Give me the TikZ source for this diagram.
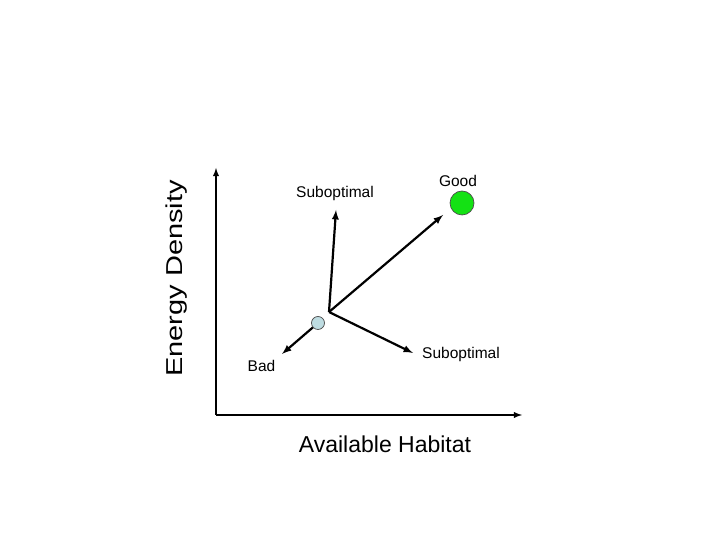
\documentclass[tikz,border=0pt]{standalone}
\usepackage{fontspec}
\setmainfont{Liberation Sans}
\usetikzlibrary{positioning}
\usetikzlibrary{arrows}

\begin{document}
\begin{tikzpicture}[x=1pt, y=1pt,
paths/.style={->, line width=2.2pt, -latex},
axis/.style={->, line width=1.8pt, -latex},
lab/.style={font=\fontsize{15.5}{18}\selectfont, anchor=base, inner sep=0pt},
biglab/.style={font=\fontsize{23}{27}\selectfont, anchor=base, inner sep=0pt},
patch/.style={circle, draw=black!70, line width=0.7pt, inner sep=0pt}
]
\useasboundingbox (0,0) rectangle (720,540);
%create nodes
\coordinate (o) at (216,125);
\coordinate (ytop) at (216,372);
\coordinate (xend) at (522,125);
\coordinate (c) at (329,228);

\node[patch, fill={rgb,255:red,20;green,225;blue,20}, minimum size=24pt] (good) at (462,337) {};
\node[patch, fill={rgb,255:red,190;green,220;blue,225}, minimum size=13pt] (here) at (318,217) {};

\coordinate (tup) at (336,330);
\coordinate (tgood) at (443,325);
\coordinate (tright) at (413,187);
\coordinate (tbad) at (282,186);

\node[lab] (subup) at (335,342) {Suboptimal};
\node[lab] (goodlab) at (458,353) {Good};
\node[lab] (subright) at (461,181) {Suboptimal};
\node[lab] (badlab) at (261.5,168) {Bad};
\node[biglab] (xlab) at (385,87) {Available Habitat};
\node[biglab, rotate=90] (ylab) at (182,261.5) {\scalebox{1.26}[1]{Energy Density}};

%draw paths
\draw[axis] (o) -- (ytop);
\draw[axis] (o) -- (xend);

\draw[paths] (c) -- (tup);
\draw[paths] (c) -- (tgood);
\draw[paths] (c) -- (tright);
\draw[paths] (here) -- (tbad);

\end{tikzpicture}
\end{document}
